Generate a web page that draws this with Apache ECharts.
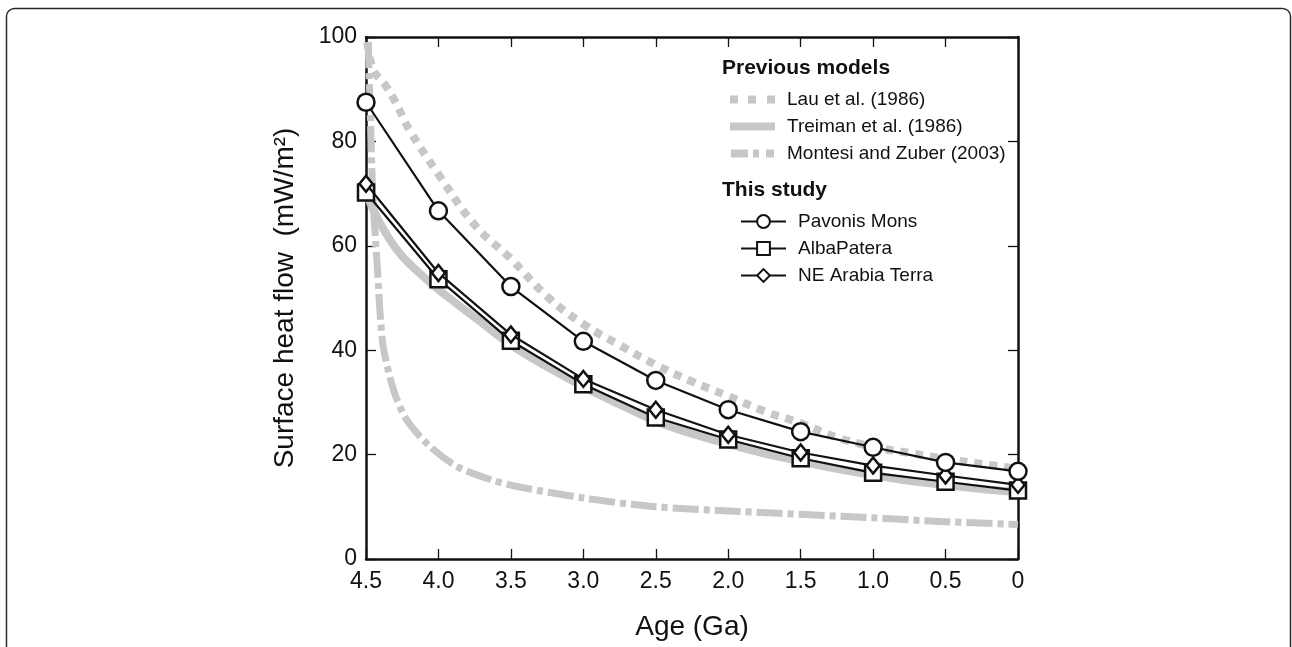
<!DOCTYPE html>
<html>
<head>
<meta charset="utf-8">
<script src="https://cdn.jsdelivr.net/npm/echarts@6/dist/echarts.min.js"></script>
<style>
  html, body { margin: 0; padding: 0; background: #fff; }
  #chart { width: 1292px; height: 647px; }
</style>
</head>
<body>
<div id="chart"></div>
<script>
// ages (Ga) where the models of this study are sampled
const ages = [4.5, 4.0, 3.5, 3.0, 2.5, 2.0, 1.5, 1.0, 0.5, 0];
const pavonisMons = [87.5, 66.7, 52.2, 41.7, 34.2, 28.6, 24.4, 21.4, 18.5, 16.8];
const albaPatera = [70.2, 53.6, 41.8, 33.5, 27.1, 22.9, 19.3, 16.5, 14.8, 13.1];
const neArabiaTerra = [71.9, 54.8, 43.0, 34.5, 28.6, 23.8, 20.4, 17.9, 16.0, 14.2];

// previous models (smooth curves)
const lauAges = [4.49, 4.45, 4.37, 4.3, 4.2, 4.0, 3.75, 3.5, 3.25, 3.0, 2.75, 2.5, 2.25, 2.0, 1.75, 1.5, 1.25, 1.0, 0.75, 0.5, 0.25, 0];
const lauFlow = [99, 93.7, 90.9, 87.7, 82.2, 73.7, 64.0, 57.5, 50.3, 45.0, 41.0, 37.2, 34.0, 31.2, 28.3, 26.0, 23.3, 21.5, 20.3, 19.2, 18.2, 17.3];

const treimanAges = [4.5, 4.45, 4.35, 4.25, 4.1, 4.0, 3.75, 3.5, 3.25, 3.0, 2.75, 2.5, 2.25, 2.0, 1.75, 1.5, 1.25, 1.0, 0.75, 0.5, 0.25, 0];
const treimanFlow = [70.5, 66.9, 61.8, 58.0, 54.0, 51.6, 46.3, 41.0, 36.8, 33.0, 29.6, 26.4, 24.0, 22.0, 20.2, 18.7, 17.3, 16.1, 15.0, 14.2, 13.4, 12.8];

const montesiAges = [4.485, 4.47, 4.46, 4.45, 4.436, 4.42, 4.40, 4.38, 4.31, 4.22, 4.06, 3.87, 3.64, 3.46, 3.0, 2.54, 1.92, 1.22, 0.54, 0];
const montesiFlow = [99, 85, 75, 68, 62, 55, 46, 40.5, 32.4, 26.7, 21.6, 17.7, 15.2, 13.9, 11.7, 10.1, 9.1, 8.2, 7.2, 6.6];

const FONT = 'Liberation Sans, Arial, Helvetica, sans-serif';
const GRAY = '#c6c7c7';

function pairs(xs, ys) {
  return xs.map((x, i) => [x, ys[i]]);
}

const chart = echarts.init(document.getElementById('chart'), null, { renderer: 'canvas' });

const frameAxis = {
  axisLine: { show: true, onZero: false, lineStyle: { color: '#111', width: 2.5 } },
  axisTick: { show: true, inside: true, length: 10, lineStyle: { color: '#111', width: 1.3 } },
  splitLine: { show: false }
};

const option = {
  animation: false,
  backgroundColor: '#fff',
  textStyle: { fontFamily: FONT },
  grid: { left: 366, right: 274, top: 37, bottom: 88 },
  xAxis: [
    Object.assign({
      type: 'value', min: 0, max: 4.5, interval: 0.5, inverse: true,
      name: 'Age (Ga)', nameLocation: 'middle', nameGap: 54,
      nameTextStyle: { fontSize: 28, color: '#111', fontFamily: FONT },
      axisLabel: {
        fontSize: 23, color: '#111', margin: 11, fontFamily: FONT,
        formatter: v => (v === 0 ? '0' : v.toFixed(1))
      }
    }, frameAxis),
    Object.assign({
      type: 'value', min: 0, max: 4.5, interval: 0.5, inverse: true,
      position: 'top', axisLabel: { show: false }
    }, frameAxis)
  ],
  yAxis: [
    Object.assign({
      type: 'value', min: 0, max: 100, interval: 20,
      name: 'Surface heat flow  (mW/m²)', nameLocation: 'middle', nameGap: 67,
      nameTextStyle: { fontSize: 28, color: '#111', fontFamily: FONT },
      axisLabel: { fontSize: 23, color: '#111', margin: 9, fontFamily: FONT }
    }, frameAxis),
    Object.assign({
      type: 'value', min: 0, max: 100, interval: 20,
      position: 'right', axisLabel: { show: false }
    }, frameAxis)
  ],
  legend: [
    {
      orient: 'vertical', left: 730, top: 90, padding: 0,
      itemWidth: 45, itemHeight: 8, itemGap: 8,
      itemStyle: { borderWidth: 0 },
      textStyle: { fontSize: 19, color: '#111', fontFamily: FONT, padding: [0, 0, 0, 7] },
      selectedMode: false,
      // legend icons for the previous models mimic their line patterns
      data: [
        { name: 'Lau et al. (1986)', icon: 'path://M0,0h8v8h-8z M18,0h8v8h-8z M37,0h8v8h-8z' },
        { name: 'Treiman et al. (1986)', icon: 'path://M0,0h45v8h-45z' },
        { name: 'Montesi and Zuber (2003)', icon: 'path://M0,0h17v8h-17z M22,0h6v8h-6z M35,0h8v8h-8z' }
      ]
    },
    {
      data: ['Pavonis Mons', 'AlbaPatera', 'NE Arabia Terra'],
      orient: 'vertical', left: 740, top: 212, padding: 0,
      itemWidth: 45, itemHeight: 16, itemGap: 8,
      textStyle: { fontSize: 19, color: '#111', fontFamily: FONT, padding: [0, 0, 0, 7] },
      selectedMode: false
    }
  ],
  graphic: [
    {
      type: 'rect', z: 100, silent: true,
      shape: { x: 6.5, y: 8.5, width: 1284, height: 700, r: 8 },
      style: { fill: 'none', stroke: '#2a2a2a', lineWidth: 1.5 }
    },
    {
      type: 'text', left: 722, top: 58,
      style: { text: 'Previous models', font: 'bold 21px ' + FONT, fill: '#111' }
    },
    {
      type: 'text', left: 722, top: 180,
      style: { text: 'This study', font: 'bold 21px ' + FONT, fill: '#111' }
    }
  ],
  series: [
    {
      name: 'Montesi and Zuber (2003)', type: 'line', z: 1,
      data: pairs(montesiAges, montesiFlow),
      smooth: 0.3, showSymbol: false, symbol: 'none', color: GRAY,
      lineStyle: { color: GRAY, width: 7, type: [26, 5, 6, 5] }
    },
    {
      name: 'Treiman et al. (1986)', type: 'line', z: 1,
      data: pairs(treimanAges, treimanFlow),
      smooth: 0.4, showSymbol: false, symbol: 'none', color: GRAY,
      lineStyle: { color: GRAY, width: 8 }
    },
    {
      name: 'Lau et al. (1986)', type: 'line', z: 1,
      data: pairs(lauAges, lauFlow),
      smooth: 0.4, showSymbol: false, symbol: 'none', color: GRAY,
      lineStyle: { color: GRAY, width: 8, type: [8, 7] }
    },
    {
      name: 'AlbaPatera', type: 'line', z: 3,
      data: pairs(ages, albaPatera),
      symbol: 'rect', symbolSize: 16,
      itemStyle: { color: '#fff', borderColor: '#111', borderWidth: 2.5 },
      lineStyle: { color: '#111', width: 2.2 }
    },
    {
      name: 'NE Arabia Terra', type: 'line', z: 4,
      data: pairs(ages, neArabiaTerra),
      symbol: 'diamond', symbolSize: [13, 16],
      itemStyle: { color: '#fff', borderColor: '#111', borderWidth: 2.5 },
      lineStyle: { color: '#111', width: 2.2 }
    },
    {
      name: 'Pavonis Mons', type: 'line', z: 5,
      data: pairs(ages, pavonisMons),
      symbol: 'circle', symbolSize: 17,
      itemStyle: { color: '#fff', borderColor: '#111', borderWidth: 2.5 },
      lineStyle: { color: '#111', width: 2.2 }
    }
  ]
};

chart.setOption(option);
</script>
</body>
</html>
